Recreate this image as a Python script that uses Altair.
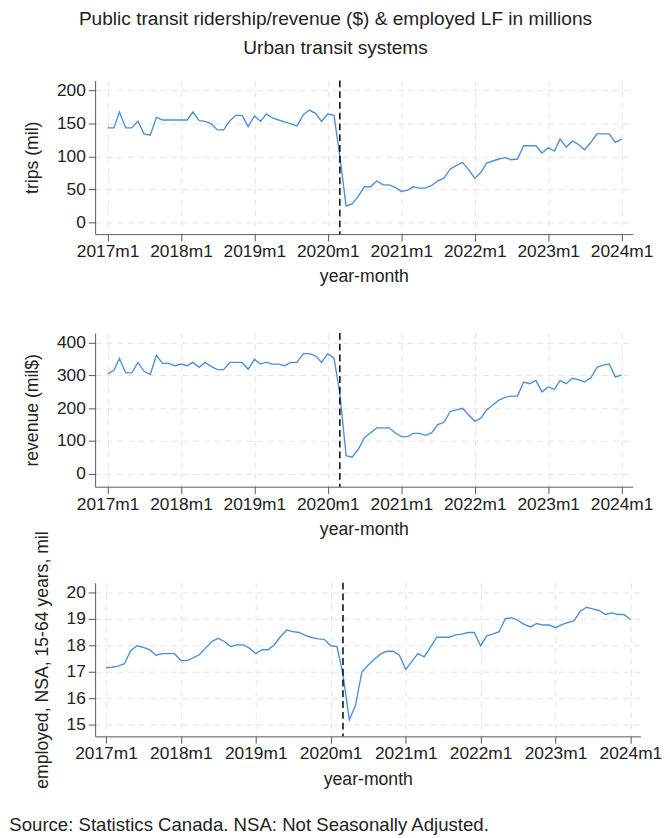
import altair as alt
import pandas as pd

FONT = "Liberation Sans, Arial, Helvetica, sans-serif"
BLUE = "#4a90d9"
TXT = "#222222"

# monthly categories 2017m1 .. 2024m1
months = pd.date_range("2017-01-01", "2024-01-01", freq="MS").strftime("%Y-%m-%dT00:00:00").tolist()

trips = [
    143, 143, 167, 143, 143, 153, 134, 132, 159, 155, 155, 155,
    155, 155, 167, 154, 153, 149, 140, 140, 154, 162, 162, 145,
    161, 153, 164, 158, 155, 152, 149, 146, 163, 170, 165, 153,
    164, 162, 100, 25, 28, 40, 54, 54, 63, 57, 57, 53,
    47, 49, 54, 52, 52, 56, 63, 67, 81, 86, 91, 80,
    67, 76, 90, 93, 96, 98, 95, 96, 116, 116, 116, 105,
    113, 108, 126, 114, 123, 118, 110, 121, 134, 134, 134, 121,
    126,
]

revenue = [
    305, 315, 352, 308, 308, 340, 313, 303, 362, 337, 337, 330,
    335, 330, 340, 325, 340, 327, 318, 318, 340, 340, 340, 319,
    350, 335, 341, 335, 335, 330, 340, 340, 367, 367, 360, 340,
    367, 353, 245, 55, 50, 75, 110, 125, 140, 140, 140, 125,
    113, 113, 123, 123, 117, 125, 150, 157, 190, 195, 200, 180,
    160, 170, 195, 210, 225, 233, 237, 237, 280, 275, 285, 250,
    265, 258, 285, 275, 292, 287, 280, 293, 325, 332, 335, 295,
    302,
]

employed = [
    17.16, 17.18, 17.22, 17.31, 17.80, 17.99, 17.93, 17.84, 17.63, 17.69, 17.69, 17.69,
    17.43, 17.43, 17.53, 17.65, 17.90, 18.15, 18.27, 18.15, 17.96, 18.02, 18.02, 17.90,
    17.69, 17.84, 17.84, 18.02, 18.33, 18.58, 18.52, 18.49, 18.37, 18.30, 18.25, 18.23,
    17.99, 17.96, 16.91, 15.19, 15.74, 17.00, 17.25, 17.48, 17.68, 17.78, 17.78, 17.63,
    17.10, 17.41, 17.69, 17.57, 17.93, 18.31, 18.31, 18.31, 18.40, 18.43, 18.49, 18.49,
    17.99, 18.37, 18.43, 18.52, 19.01, 19.05, 18.95, 18.80, 18.70, 18.83, 18.77, 18.77,
    18.67, 18.79, 18.86, 18.93, 19.28, 19.44, 19.38, 19.32, 19.17, 19.23, 19.17, 19.17,
    18.98,
]

covid_month = ["2020-03-01T00:00:00"]
year_ticks = list(range(2017, 2025))

df = pd.DataFrame({"month": months, "trips": trips, "revenue": revenue, "employed": employed})
covid = pd.DataFrame({"month": covid_month})

xticks = [alt.DateTime(year=y, month=1, date=1) for y in year_ticks]


def panel(field, ytitle, ydomain, yticks, xdom, width, height):
    x = alt.X(
        "month:T",
        title="year-month",
        scale=alt.Scale(domain=xdom),
        axis=alt.Axis(values=xticks, format="%Ym%-m", labelFlush=False, labelOverlap=False,
                      labelPadding=2, titlePadding=8, grid=True),
    )
    y = alt.Y(
        f"{field}:Q",
        title=ytitle,
        scale=alt.Scale(domain=ydomain, nice=False, zero=False),
        axis=alt.Axis(values=yticks, labelPadding=3, titlePadding=15, grid=True),
    )
    line = alt.Chart(df).mark_line(color=BLUE, strokeWidth=1.4).encode(x=x, y=y)
    rule = alt.Chart(covid).mark_rule(color="black", strokeDash=[7, 4], strokeWidth=1.5).encode(x="month:T")
    return alt.layer(line, rule).properties(width=width, height=height)


xdom12 = [alt.DateTime(year=2016, month=10, date=31), alt.DateTime(year=2024, month=2, date=25)]
xdom3 = [alt.DateTime(year=2016, month=11, date=9), alt.DateTime(year=2024, month=2, date=19)]

p1 = panel("trips", "trips (mil)", [-17.5, 214.8], [0, 50, 100, 150, 200], xdom12, 549, 157)
p2 = panel("revenue", "revenue (mil$)", [-40, 430], [0, 100, 200, 300, 400], xdom12, 549, 157)
p3 = panel("employed", "employed, NSA, 15-64 years, mil", [14.57, 20.37], [15, 16, 17, 18, 19, 20],
           xdom3, 557, 157).properties(
    title=alt.TitleParams(
        "Source: Statistics Canada. NSA: Not Seasonally Adjusted.",
        orient="bottom", anchor="start", frame="bounds", dx=-25, offset=29,
        fontSize=19, font=FONT, fontWeight="normal", color=TXT,
    )
)

top = alt.vconcat(p1, p2, spacing=47)
bottom = alt.hconcat(p3)

chart = alt.vconcat(top, bottom, spacing=-9).properties(
    title=alt.TitleParams(
        text="Public transit ridership/revenue ($) & employed LF in millions",
        subtitle="Urban transit systems",
        anchor="middle", fontSize=19.5, subtitleFontSize=19.5, subtitlePadding=10, offset=22,
        font=FONT, subtitleFont=FONT, fontWeight="normal", color=TXT, subtitleColor=TXT,
    ),
    padding={"left": 1, "top": -8, "right": 0, "bottom": 0},
).configure(font=FONT).configure_axis(
    domainColor="#555555", domainWidth=1, tickColor="#555555", tickSize=7, tickWidth=1,
    labelFont=FONT, labelFontSize=17.7, labelColor=TXT,
    titleFont=FONT, titleFontSize=18, titleColor=TXT, titleFontWeight="normal",
    gridColor="#e2e2e2", gridDash=[6, 5], gridWidth=1,
).configure_view(stroke=None)

chart.save("out.html", embed_options={"renderer": "svg", "actions": False})
